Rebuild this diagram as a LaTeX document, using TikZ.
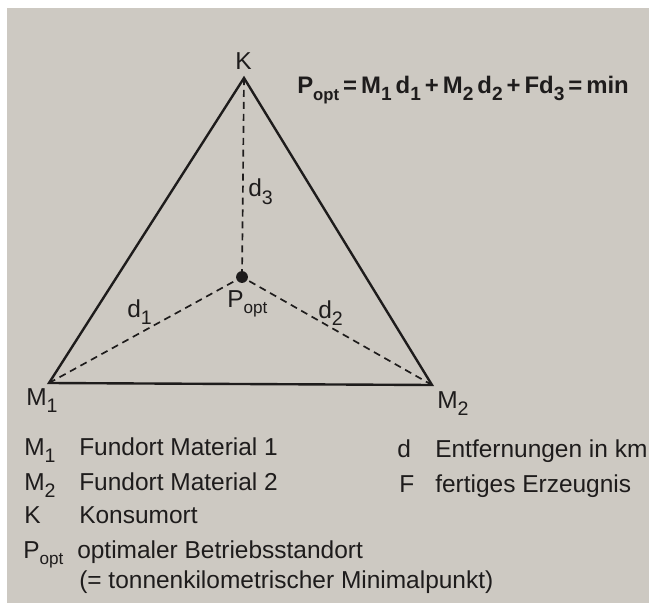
\documentclass[tikz,border=0pt]{standalone}
\usepackage{fontspec}
\setmainfont{Liberation Sans}
\definecolor{paper}{HTML}{CDC9C2}
\definecolor{ink}{HTML}{1E1C1C}
\newcommand{\sbs}[1]{\raisebox{-0.55ex}{\scalebox{0.8}{#1}}}
\newcommand{\sbo}[1]{\raisebox{-0.5ex}{\scalebox{0.7}{#1}}}

\begin{document}
\begin{tikzpicture}[
    x=0.025cm, y=-0.025cm,
    every node/.style={inner sep=0pt, font=\fontsize{17.4}{20}\selectfont, text=ink},
    side/.style={draw=ink, line width=1.7pt, line join=miter},
    dist/.style={draw=ink, line width=1.2pt, dash pattern=on 5pt off 3.5pt},
    lbl/.style={anchor=base west}
  ]
    \fill[white] (0,0) rectangle (649,603);
    \fill[paper] (7,8) rectangle (649,603);
    \useasboundingbox (0,0) rectangle (649,603);

    \coordinate (K) at (244,78);
    \coordinate (M1) at (49,383);
    \coordinate (M2) at (432,385);
    \coordinate (P) at (242,277);

    \draw[side] (M1) -- (K) -- (M2) -- cycle;
    \draw[dist] (K) -- (P);
    \draw[dist] (M1) -- (P);
    \draw[dist] (M2) -- (P);
    \fill[ink] (P) circle (4.2pt);

    \node[lbl] (kname) at (235,70) {K};
    \node[lbl] (m1name) at (26,405) {M\sbs{1}};
    \node[lbl] (m2name) at (437,408) {M\sbs{2}};
    \node[lbl] (d1name) at (127,317) {d\sbs{1}};
    \node[lbl] (d2name) at (318,318) {d\sbs{2}};
    \node[lbl] (d3name) at (248,197) {d\sbs{3}};
    \node[lbl] (pname) at (227,307) {P\sbo{opt}};

    \node[lbl, font=\fontsize{17}{20}\selectfont\bfseries] (formula) at (297,94)
      {P\sbo{opt}\,=\,M\sbs{1}\,d\sbs{1}\,+\,M\sbs{2}\,d\sbs{2}\,+\,Fd\sbs{3}\,=\,min};

    \node[lbl] (leg1) at (24,455) {M\sbs{1}};
    \node[lbl] (txt1) at (79,455) {Fundort Material 1};
    \node[lbl] (leg2) at (24,490) {M\sbs{2}};
    \node[lbl] (txt2) at (79,490) {Fundort Material 2};
    \node[lbl] (leg3) at (24,523) {K};
    \node[lbl] (txt3) at (79,523) {Konsumort};
    \node[lbl] (leg4) at (23,558) {P\sbo{opt}};
    \node[lbl] (txt4) at (77,558) {optimaler Betriebsstandort};
    \node[lbl] (txt5) at (79,588) {(= tonnenkilometrischer Minimalpunkt)};
    \node[lbl] (leg6) at (397,457) {d};
    \node[lbl] (txt6) at (435,457) {Entfernungen in km};
    \node[lbl] (leg7) at (399,492) {F};
    \node[lbl] (txt7) at (435,492) {fertiges Erzeugnis};
  \end{tikzpicture}
\end{document}
